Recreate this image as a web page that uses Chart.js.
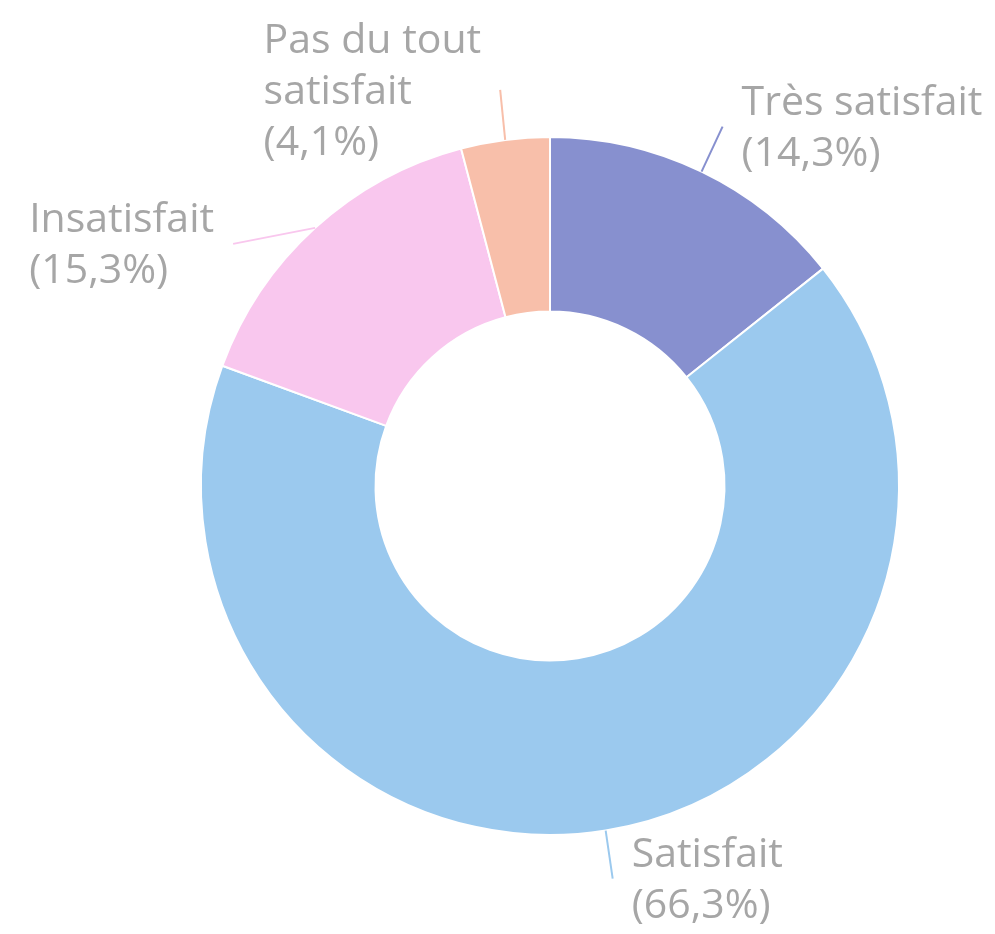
<!DOCTYPE html>
<html>
<head>
<meta charset="utf-8">
<script src="https://cdn.jsdelivr.net/npm/chart.js@4"></script>
<style>
  html, body { margin: 0; padding: 0; background: #fff; }
  #wrap { width: 995px; height: 934px; }
</style>
</head>
<body>
<div id="wrap"><canvas id="satisfactionChart" width="995" height="934"></canvas></div>
<script>
const labels = ["Très satisfait", "Satisfait", "Insatisfait", "Pas du tout satisfait"];
const labelLines = [["Très satisfait"], ["Satisfait"], ["Insatisfait"], ["Pas du tout", "satisfait"]];
const percentages = [14.3, 66.3, 15.3, 4.1];
const colors = ["#8790cf", "#9bc9ee", "#f9c7ee", "#f8bfaa"];

// leader line vectors from the outer edge of each slice
const leaders = [[21, -45], [7, 48], [-82, 16], [-5, -50]];

const labelPlugin = {
    id: "outsideLabels",
    afterDraw(chart) {
        const ctx = chart.ctx;
        const meta = chart.getDatasetMeta(0);
        ctx.save();
        ctx.font = "41px 'Open Sans'";
        ctx.textBaseline = "middle";
        meta.data.forEach((arc, i) => {
            const { x, y, startAngle, endAngle, outerRadius } = arc.getProps(["x", "y", "startAngle", "endAngle", "outerRadius"], true);
            const mid = (startAngle + endAngle) / 2;
            const sx = x + Math.cos(mid) * outerRadius;
            const sy = y + Math.sin(mid) * outerRadius;
            const ex = sx + leaders[i][0];
            const ey = sy + leaders[i][1];

            ctx.strokeStyle = colors[i];
            ctx.lineWidth = 2;
            ctx.beginPath();
            ctx.moveTo(sx, sy);
            ctx.lineTo(ex, ey);
            ctx.stroke();

            const lines = labelLines[i].concat(["(" + percentages[i].toFixed(1).replace(".", ",") + "%)"]);
            const lineHeight = 51;
            const widest = Math.max(...lines.map(l => ctx.measureText(l).width));
            const left = ex >= x ? ex + 19 : ex - 19 - widest;
            const top = ey + 2 - (lines.length - 1) * lineHeight / 2;
            ctx.fillStyle = "#a6a6a6";
            ctx.textAlign = "left";
            lines.forEach((l, j) => ctx.fillText(l, left, top + j * lineHeight));
        });
        ctx.restore();
    }
};

new Chart(document.getElementById("satisfactionChart"), {
    type: "doughnut",
    data: {
        labels: labels,
        datasets: [{
            data: percentages,
            backgroundColor: colors,
            borderColor: "#ffffff",
            borderWidth: 2
        }]
    },
    options: {
        responsive: false,
        animation: false,
        cutout: "50%",
        layout: { padding: { left: 200, right: 95, top: 136, bottom: 98 } },
        plugins: {
            legend: { display: false },
            tooltip: { enabled: false }
        }
    },
    plugins: [labelPlugin]
});
</script>
</body>
</html>
